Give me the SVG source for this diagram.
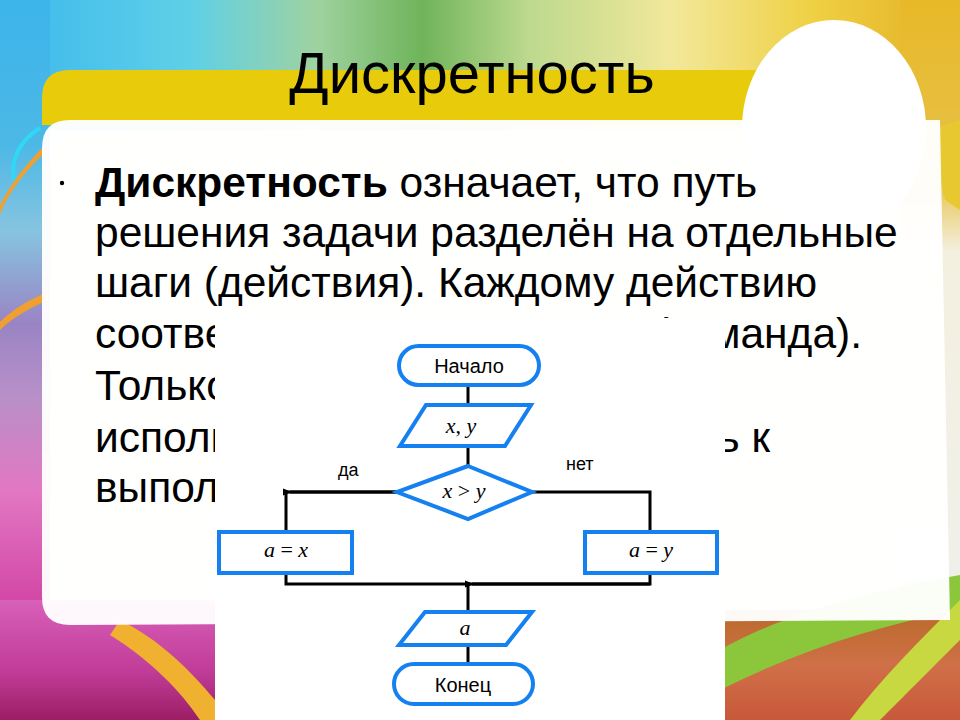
<svg xmlns="http://www.w3.org/2000/svg" width="960" height="720" viewBox="0 0 960 720">
<defs>
<style>
.title{font-family:"Liberation Sans",Arial,sans-serif;font-size:58px;fill:#000}
.body{font-family:"Liberation Sans",Arial,sans-serif;font-size:42.5px;fill:#000}
.lbl{font-family:"Liberation Sans",Arial,sans-serif;font-size:20px;fill:#000}
.small{font-family:"Liberation Sans",Arial,sans-serif;font-size:18px;fill:#000}
.math{font-family:"Liberation Serif","Times New Roman",serif;font-size:22px;fill:#000}
.it{font-style:italic}
.shape{fill:#fff;stroke:#1580f0;stroke-width:4}
.conn{fill:none;stroke:#000;stroke-width:3}
</style>
<linearGradient id="topG" x1="0" y1="0" x2="1" y2="0">
<stop offset="0" stop-color="#3cb8ee"/>
<stop offset="0.2" stop-color="#5fd0e6"/>
<stop offset="0.33" stop-color="#9fd2a0"/>
<stop offset="0.44" stop-color="#6fb45a"/>
<stop offset="0.55" stop-color="#bcd98e"/>
<stop offset="0.7" stop-color="#f2e89a"/>
<stop offset="0.85" stop-color="#efd042"/>
<stop offset="1" stop-color="#e3ac24"/>
</linearGradient>
<linearGradient id="leftG" x1="0" y1="0" x2="0" y2="1">
<stop offset="0" stop-color="#3cb4ea"/>
<stop offset="0.2" stop-color="#4cb8e6"/>
<stop offset="0.32" stop-color="#86c4e0"/>
<stop offset="0.45" stop-color="#9a84c4"/>
<stop offset="0.55" stop-color="#b890c8"/>
<stop offset="0.68" stop-color="#e278c4"/>
<stop offset="0.82" stop-color="#d44ca8"/>
<stop offset="1" stop-color="#a8206a"/>
</linearGradient>
<linearGradient id="rightG" x1="0" y1="0" x2="0" y2="1">
<stop offset="0" stop-color="#e8b828"/>
<stop offset="0.25" stop-color="#e6c24a"/>
<stop offset="0.35" stop-color="#f4f0e0"/>
<stop offset="0.8" stop-color="#f0f0ea"/>
<stop offset="0.88" stop-color="#c87a40"/>
<stop offset="1" stop-color="#c4603c"/>
</linearGradient>
<linearGradient id="brG" x1="0" y1="0" x2="0" y2="1">
<stop offset="0" stop-color="#b86a2a"/>
<stop offset="0.5" stop-color="#d07048"/>
<stop offset="1" stop-color="#c8583a"/>
</linearGradient>
<linearGradient id="blG" x1="0" y1="0" x2="0" y2="1">
<stop offset="0" stop-color="#d860b8"/>
<stop offset="0.6" stop-color="#c03c98"/>
<stop offset="1" stop-color="#9c1e64"/>
</linearGradient>
<marker id="arr" markerWidth="10" markerHeight="8" refX="2" refY="4" orient="auto" markerUnits="userSpaceOnUse">
<path d="M0,4 L9,0.5 L9,7.5 Z" fill="#000"/>
</marker>
</defs>

<g id="background">
<rect x="0" y="0" width="960" height="720" fill="#f0ece4"/>
<rect x="0" y="0" width="960" height="130" fill="url(#topG)"/>
<rect x="0" y="0" width="50" height="720" fill="url(#leftG)"/>
<rect x="900" y="0" width="60" height="720" fill="url(#rightG)"/>
<rect x="0" y="600" width="230" height="120" fill="url(#blG)"/>
<rect x="720" y="610" width="240" height="110" fill="url(#brG)"/>
<path d="M720,650 C790,610 880,590 960,575 L960,610 C880,625 800,650 720,690 Z" fill="#8cc63a"/>
<path d="M850,720 C880,680 920,640 960,600 L960,640 C930,670 900,700 880,720 Z" fill="#c8d840"/>
<path d="M120,620 C160,640 190,670 215,700 L215,720 L200,720 C180,690 150,660 110,635 Z" fill="#f0b030"/>
<path d="M48,150 C20,175 5,200 0,215 L0,205 C10,185 25,165 45,145 Z" fill="#f0a030"/>
<path d="M48,300 C25,310 10,320 0,330 L0,322 C12,310 28,300 48,292 Z" fill="#f0a030"/>
<path d="M40,128 C20,140 10,160 14,180" fill="none" stroke="#30d8f8" stroke-width="4"/>
<path d="M930,130 L960,120 L960,210 L945,200 Z" fill="#e8c830"/>
</g>

<g id="banner">
<path d="M70,70 L800,70 L800,125 L42,125 L42,98 Q42,70 70,70 Z" fill="#e8cc0c"/>
</g>

<g id="panel">
<path d="M70,120 L940,120 L950,620 L70,625 Q42,625 42,597 L42,148 Q42,120 70,120 Z" fill="#ffffff" opacity="0.96"/>
<ellipse cx="834" cy="128" rx="92" ry="108" fill="#ffffff"/>
</g>

<g id="title">
<text class="title" x="472" y="93" text-anchor="middle">Дискретность</text>
</g>

<g id="bodytext">
<circle cx="62" cy="183" r="2.2" fill="#000"/>
<text class="body" x="95" y="197"><tspan font-weight="bold">Дискретность</tspan> означает, что путь</text>
<text class="body" x="95" y="247">решения задачи разделён на отдельные</text>
<text class="body" x="95" y="297">шаги (действия). Каждому действию</text>
<text class="body" x="95" y="348">соответ</text>
<text class="body" x="862" y="348" text-anchor="end">(команда).</text>
<text class="body" x="95" y="400">Только</text>
<text class="body" x="95" y="452">исполн</text>
<text class="body" x="770" y="452" text-anchor="end">ь к</text>
<text class="body" x="95" y="502">выполн</text>
</g>

<g id="flowpanel">
<rect x="215" y="318" width="510" height="402" fill="#ffffff"/>
</g>

<g id="connectors">
<line class="conn" x1="468" y1="385" x2="468" y2="405"/>
<line class="conn" x1="468" y1="446" x2="468" y2="466"/>
<polyline class="conn" points="397,492 286,492 286,531"/>
<line class="conn" x1="397" y1="492" x2="290" y2="492" marker-end="url(#arr)"/>
<polyline class="conn" points="532,492 650,492 650,531"/>
<polyline class="conn" points="286,573 286,584 650,584 650,573"/>
<line class="conn" x1="650" y1="584" x2="472" y2="584" marker-end="url(#arr)"/>
<line class="conn" x1="468" y1="584" x2="468" y2="611"/>
<line class="conn" x1="468" y1="645" x2="468" y2="664"/>
</g>

<g id="start">
<rect class="shape" x="399" y="346" width="140" height="39" rx="19.5"/>
<text class="lbl" x="469" y="373" text-anchor="middle">Начало</text>
</g>
<g id="input">
<polygon class="shape" points="426,405 531,405 505,446 400,446"/>
<text class="math" x="461" y="433" text-anchor="middle"><tspan class="it">x</tspan>, <tspan class="it">y</tspan></text>
</g>
<g id="decision">
<polygon class="shape" points="468,466 532,492 468,519 397,492"/>
<text class="math" x="464" y="498" text-anchor="middle"><tspan class="it">x</tspan> &gt; <tspan class="it">y</tspan></text>
</g>
<g id="yes-label">
<text class="small" x="338" y="476">да</text>
</g>
<g id="no-label">
<text class="small" x="566" y="470">нет</text>
</g>
<g id="assign-x">
<rect class="shape" x="219" y="532" width="133" height="41"/>
<text class="math" x="286" y="557" text-anchor="middle"><tspan class="it">a</tspan> = <tspan class="it">x</tspan></text>
</g>
<g id="assign-y">
<rect class="shape" x="585" y="532" width="132" height="41"/>
<text class="math" x="651" y="557" text-anchor="middle"><tspan class="it">a</tspan> = <tspan class="it">y</tspan></text>
</g>
<g id="output">
<polygon class="shape" points="425,612 532,612 506,645 399,645"/>
<text class="math it" x="465" y="635" text-anchor="middle">a</text>
</g>
<g id="end">
<rect class="shape" x="394" y="664" width="139" height="40" rx="20"/>
<text class="lbl" x="463" y="692" text-anchor="middle">Конец</text>
</g>
</svg>
